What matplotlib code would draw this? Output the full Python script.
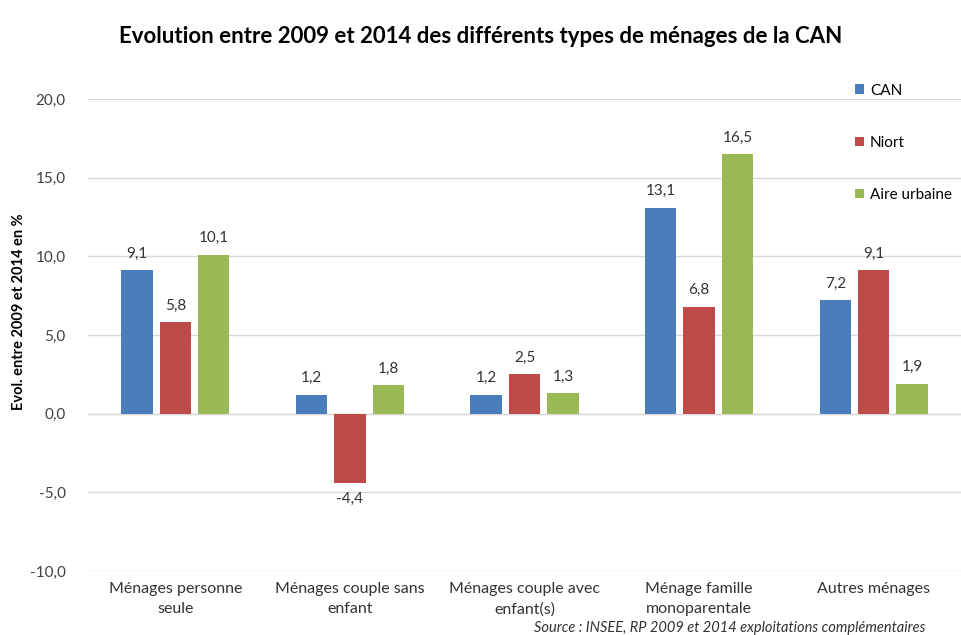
import matplotlib.pyplot as plt
import numpy as np

plt.rcParams['font.family'] = ['Lato', 'DejaVu Sans']
plt.rcParams['font.size'] = 11

# données
categories = ['Ménages personne\nseule', 'Ménages couple sans\nenfant',
              'Ménages couple avec\nenfant(s)', 'Ménage famille\nmonoparentale',
              'Autres ménages']
series = ['CAN', 'Niort', 'Aire urbaine']
can = [9.1, 1.2, 1.2, 13.1, 7.2]
niort = [5.8, -4.4, 2.5, 6.8, 9.1]
aire = [10.1, 1.8, 1.3, 16.5, 1.9]
yticks = [-10, -5, 0, 5, 10, 15, 20]

colors = ['#4a7ebb', '#be4b48', '#98b954']

fig = plt.figure(figsize=(9.61, 6.35), dpi=100)
ax = fig.add_axes([0.0916, 0.1008, 0.9084, 0.7433])

x = np.arange(len(categories))
w = 0.18
step = 0.22
for i, (vals, name) in enumerate(zip([can, niort, aire], series)):
    pos = x + (i - 1) * step
    ax.bar(pos, vals, width=w, color=colors[i], label=name, zorder=3)
    for px, v in zip(pos, vals):
        txt = f'{v:.1f}'.replace('.', ',')
        if v >= 0:
            ax.text(px, v + 0.6, txt, ha='center', va='bottom', fontsize=11, color='#333333')
        else:
            ax.text(px, v - 0.6, txt, ha='center', va='top', fontsize=11, color='#333333')

ax.set_xlim(-0.5, len(categories) - 0.5)
ax.set_ylim(-10, 20)
ax.set_yticks(yticks)
ax.set_yticklabels([f'{t:.1f}'.replace('.', ',') for t in yticks], color='#404040')
ax.set_xticks(x)
ax.set_xticklabels(categories, color='#333333', fontsize=11.5, linespacing=1.55)
ax.tick_params(axis='y', length=0, pad=16)
ax.tick_params(axis='x', length=0, pad=8)
ax.grid(axis='y', color='#d9d9d9', linewidth=1, zorder=0)
ax.axhline(0, color='#d9d9d9', linewidth=1, zorder=2)
for s in ax.spines.values():
    s.set_visible(False)

ax.set_ylabel('Evol. entre 2009 et 2014 en %', fontweight='bold', fontsize=10.5)
ax.yaxis.set_label_coords(-0.071, 0.55)

fig.text(0.5, 0.943, 'Evolution entre 2009 et 2014 des différents types de ménages de la CAN',
         ha='center', va='center', fontsize=16, fontweight='bold')

fig.legend(loc='upper left', bbox_to_anchor=(0.875, 0.89), frameon=False,
           handlelength=0.6, handleheight=0.6, handletextpad=0.4,
           labelspacing=2.5, fontsize=11)

fig.text(0.963, 0.0, 'Source : INSEE, RP 2009 et 2014 exploitations complémentaires',
         ha='right', va='bottom', fontsize=10.5, style='italic', color='#333333')

plt.savefig('out.png', dpi=100)
